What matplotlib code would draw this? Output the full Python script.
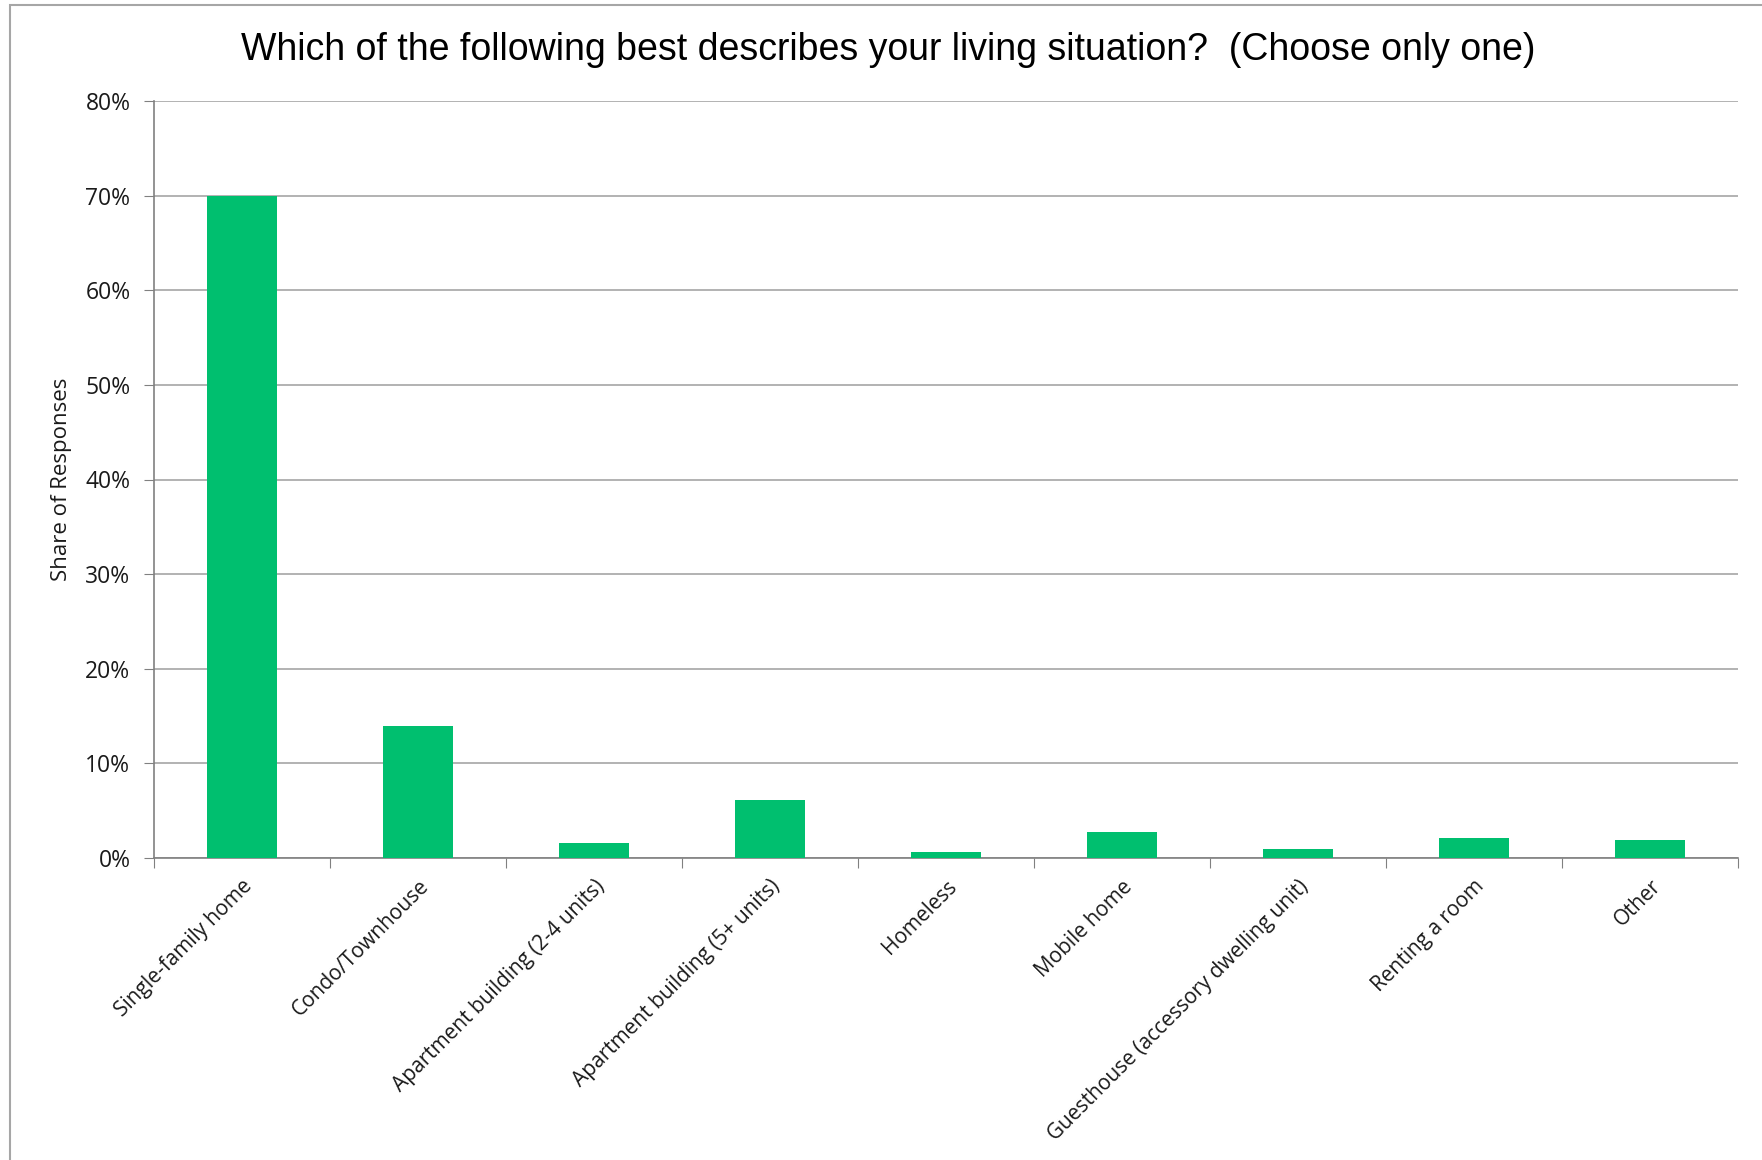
import numpy as np
import matplotlib.pyplot as plt
from matplotlib.patches import Rectangle
from matplotlib.ticker import FuncFormatter, FixedLocator

# survey answers and share of responses (%)
categories = [
    "Single-family home",
    "Condo/Townhouse",
    "Apartment building (2-4 units)",
    "Apartment building (5+ units)",
    "Homeless",
    "Mobile home",
    "Guesthouse (accessory dwelling unit)",
    "Renting a room",
    "Other",
]
shares = [70.0, 13.9, 1.6, 6.1, 0.64, 2.7, 0.95, 2.15, 1.9]
y_ticks = [0, 10, 20, 30, 40, 50, 60, 70, 80]

W, H = 1762, 1160
fig = plt.figure(figsize=(W / 100, H / 100), dpi=100)

# axes box in pixels: left 154, right 1738, top 101, bottom 858
ax = fig.add_axes([154 / W, 1 - 858 / H, (1738 - 154) / W, (858 - 101) / H])

x = np.arange(len(categories))
ax.bar(x, shares, width=0.4, color="#00BF6F", zorder=3)

ax.set_xlim(-0.5, len(categories) - 0.5)
ax.set_ylim(0, 80)
ax.set_yticks(y_ticks)
ax.yaxis.set_major_formatter(FuncFormatter(lambda v, p: f"{v:.0f}%"))
ax.grid(axis="y", color="#a6a6a6", linewidth=1.2, zorder=0)

# category boundary ticks, labels at the bar centres
ax.xaxis.set_major_locator(FixedLocator(np.arange(len(categories) + 1) - 0.5))
ax.set_xticklabels([])
ax.set_xticks(x, minor=True)
ax.set_xticklabels(categories, minor=True, rotation=45, ha="right",
                   rotation_mode="anchor", fontsize=15, family="Open Sans",
                   color="#1a1a1a")
ax.tick_params(axis="x", which="minor", length=0, pad=13)
ax.tick_params(axis="x", which="major", length=7, color="#808080")
ax.tick_params(axis="y", length=7, color="#808080", labelsize=16.5,
               labelcolor="#1a1a1a", pad=10)
for lbl in ax.get_yticklabels():
    lbl.set_family("Open Sans")

for side in ["top", "right"]:
    ax.spines[side].set_visible(False)
for side in ["left", "bottom"]:
    ax.spines[side].set_color("#808080")
    ax.spines[side].set_linewidth(1.2)

ax.set_ylabel("Share of Responses", fontsize=16, family="Open Sans",
              color="#1a1a1a")
ax.yaxis.set_label_coords(-0.052, 0.5)

fig.text(888 / W, 1 - 50 / H,
         "Which of the following best describes your living situation?  (Choose only one)",
         ha="center", va="center", fontsize=27, family="Liberation Sans",
         color="black")

# outer chart frame (cut off at right and bottom)
fig.patches.append(Rectangle((10 / W, -0.05), 1.1, 1 - 5 / H + 0.05,
                             transform=fig.transFigure, fill=False,
                             edgecolor="#a6a6a6", linewidth=1.5))

fig.savefig("out.png", dpi=100)
